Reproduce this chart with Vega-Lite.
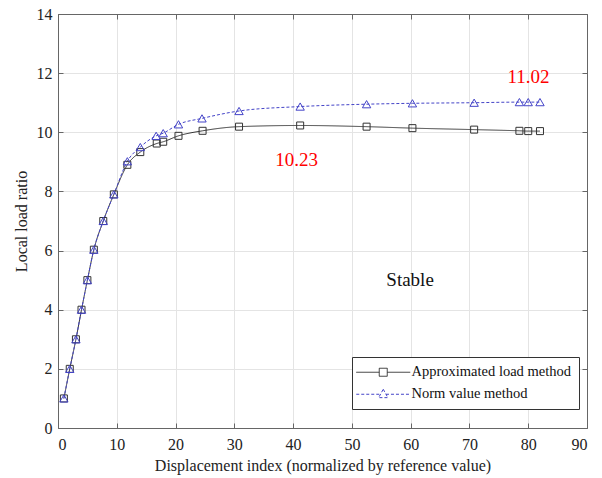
{
  "$schema": "https://vega.github.io/schema/vega-lite/v6.json",
  "width": 529,
  "height": 414,
  "autosize": "none",
  "padding": {"left": 58, "top": 14, "right": 15, "bottom": 50},
  "background": "white",
  "config": {
    "view": {"stroke": null},
    "font": "Liberation Serif, DejaVu Serif, Times New Roman, serif",
    "axis": {
      "domainColor": "#666666",
      "tickColor": "#666666",
      "gridColor": "#e4e4e4",
      "labelColor": "#222222",
      "titleColor": "#222222",
      "labelFont": "Liberation Serif, DejaVu Serif, Times New Roman, serif",
      "titleFont": "Liberation Serif, DejaVu Serif, Times New Roman, serif",
      "labelFontSize": 16,
      "titleFontSize": 16,
      "titleFontWeight": "normal"
    }
  },
  "datasets": {
    "curves": [
      {"method": "Approximated load method", "index": 1, "ratio": 1},
      {"method": "Approximated load method", "index": 2, "ratio": 2},
      {"method": "Approximated load method", "index": 3.05, "ratio": 3},
      {"method": "Approximated load method", "index": 4, "ratio": 4},
      {"method": "Approximated load method", "index": 5, "ratio": 5},
      {"method": "Approximated load method", "index": 6.1, "ratio": 6.03},
      {"method": "Approximated load method", "index": 7.7, "ratio": 7.0},
      {"method": "Approximated load method", "index": 9.5, "ratio": 7.9},
      {"method": "Approximated load method", "index": 11.8, "ratio": 8.9},
      {"method": "Approximated load method", "index": 14.0, "ratio": 9.33},
      {"method": "Approximated load method", "index": 16.8, "ratio": 9.62},
      {"method": "Approximated load method", "index": 17.9, "ratio": 9.68},
      {"method": "Approximated load method", "index": 20.5, "ratio": 9.88},
      {"method": "Approximated load method", "index": 24.6, "ratio": 10.05},
      {"method": "Approximated load method", "index": 30.8, "ratio": 10.19},
      {"method": "Approximated load method", "index": 41.2, "ratio": 10.23},
      {"method": "Approximated load method", "index": 52.5, "ratio": 10.19},
      {"method": "Approximated load method", "index": 60.3, "ratio": 10.14},
      {"method": "Approximated load method", "index": 70.8, "ratio": 10.09},
      {"method": "Approximated load method", "index": 78.5, "ratio": 10.05},
      {"method": "Approximated load method", "index": 80.0, "ratio": 10.04},
      {"method": "Approximated load method", "index": 82.0, "ratio": 10.04},
      {"method": "Norm value method", "index": 1, "ratio": 1},
      {"method": "Norm value method", "index": 2, "ratio": 2},
      {"method": "Norm value method", "index": 3.05, "ratio": 3},
      {"method": "Norm value method", "index": 4, "ratio": 4},
      {"method": "Norm value method", "index": 5, "ratio": 5},
      {"method": "Norm value method", "index": 6.1, "ratio": 6.03},
      {"method": "Norm value method", "index": 7.7, "ratio": 7.0},
      {"method": "Norm value method", "index": 9.5, "ratio": 7.9},
      {"method": "Norm value method", "index": 11.8, "ratio": 9.02},
      {"method": "Norm value method", "index": 14.0, "ratio": 9.5},
      {"method": "Norm value method", "index": 16.7, "ratio": 9.88},
      {"method": "Norm value method", "index": 17.9, "ratio": 9.97},
      {"method": "Norm value method", "index": 20.5, "ratio": 10.27},
      {"method": "Norm value method", "index": 24.5, "ratio": 10.47},
      {"method": "Norm value method", "index": 30.8, "ratio": 10.72},
      {"method": "Norm value method", "index": 41.2, "ratio": 10.87},
      {"method": "Norm value method", "index": 52.5, "ratio": 10.95},
      {"method": "Norm value method", "index": 60.3, "ratio": 10.98},
      {"method": "Norm value method", "index": 70.8, "ratio": 11.0},
      {"method": "Norm value method", "index": 78.5, "ratio": 11.02},
      {"method": "Norm value method", "index": 80.0, "ratio": 11.02},
      {"method": "Norm value method", "index": 82.0, "ratio": 11.02}
    ],
    "redNotes": [
      {"index": 80.05, "ratio": 11.86, "label": "11.02"},
      {"index": 40.6, "ratio": 9.05, "label": "10.23"}
    ],
    "blackNotes": [
      {"index": 59.9, "ratio": 5.02, "label": "Stable"}
    ]
  },
  "resolve": {"axis": {"x": "independent", "y": "independent"}},
  "layer": [
    {
      "data": {"name": "curves"},
      "mark": {"type": "line", "interpolate": "monotone", "strokeWidth": 1},
      "encoding": {
        "x": {
          "field": "index", "type": "quantitative",
          "scale": {"domain": [0, 90], "nice": false},
          "axis": {
            "orient": "bottom",
            "values": [0, 10, 20, 30, 40, 50, 60, 70, 80, 90],
            "grid": true, "tickSize": -5, "labelPadding": 13,
            "title": "Displacement index (normalized by reference value)",
            "titlePadding": 5
          }
        },
        "y": {
          "field": "ratio", "type": "quantitative",
          "scale": {"domain": [0, 14], "nice": false},
          "axis": {
            "orient": "left",
            "values": [0, 2, 4, 6, 8, 10, 12, 14],
            "grid": true, "tickSize": -5, "labelPadding": 11,
            "title": "Local load ratio",
            "titlePadding": 7
          }
        },
        "color": {
          "field": "method", "type": "nominal",
          "scale": {"domain": ["Approximated load method", "Norm value method"], "range": ["#333333", "#4444c8"]},
          "legend": {
            "orient": "none", "legendX": 294, "legendY": 343,
            "title": null,
            "fillColor": "white", "strokeColor": "#333333", "padding": 8,
            "labelFont": "Liberation Serif, DejaVu Serif, Times New Roman, serif", "labelFontSize": 14.5, "labelColor": "#111111",
            "labelOffset": 37, "rowPadding": 7, "symbolSize": 64, "symbolStrokeWidth": 1,
            "symbolType": "square",
            "encode": {
              "symbols": {
                "update": {
                  "shape": {"signal": "datum.value === 'Norm value method' ? 'M-2.75,0H3.32M4.68,0H10.75M4,-1.25L5.15,0.85L2.85,0.85Z' : 'M-2.75,0H3M5,0H10.75M3,-1H5V1H3Z'"},
                  "strokeDash": {"signal": "datum.value === 'Norm value method' ? [3, 2] : [1, 0]"},
                  "fill": {"value": "transparent"}
                }
              }
            }
          }
        },
        "strokeDash": {
          "field": "method", "type": "nominal",
          "scale": {"domain": ["Approximated load method", "Norm value method"], "range": [[1, 0], [3, 2]]},
          "legend": null
        }
      }
    },
    {
      "data": {"name": "curves"},
      "transform": [{"filter": "datum.method === 'Approximated load method'"}],
      "mark": {"type": "point", "shape": "square", "size": 49, "filled": false, "strokeWidth": 1, "opacity": 1},
      "encoding": {
        "x": {
          "field": "index", "type": "quantitative",
          "axis": {"orient": "top", "labels": false, "grid": false, "tickSize": -5, "title": null, "values": [0, 10, 20, 30, 40, 50, 60, 70, 80, 90]}
        },
        "y": {
          "field": "ratio", "type": "quantitative",
          "axis": {"orient": "right", "labels": false, "grid": false, "tickSize": -5, "title": null, "values": [0, 2, 4, 6, 8, 10, 12, 14]}
        },
        "color": {"field": "method", "type": "nominal"}
      }
    },
    {
      "data": {"name": "curves"},
      "transform": [{"filter": "datum.method === 'Norm value method'"}],
      "mark": {"type": "point", "shape": "triangle-up", "size": 70, "filled": false, "strokeWidth": 1, "opacity": 1},
      "encoding": {
        "x": {"field": "index", "type": "quantitative", "axis": null},
        "y": {"field": "ratio", "type": "quantitative", "axis": null},
        "color": {"field": "method", "type": "nominal"}
      }
    },
    {
      "data": {"name": "redNotes"},
      "mark": {"type": "text", "font": "Liberation Serif, DejaVu Serif, Times New Roman, serif", "fontSize": 19, "color": "#ff0000", "align": "center", "baseline": "middle"},
      "encoding": {
        "x": {"field": "index", "type": "quantitative", "axis": null},
        "y": {"field": "ratio", "type": "quantitative", "axis": null},
        "text": {"field": "label"}
      }
    },
    {
      "data": {"name": "blackNotes"},
      "mark": {"type": "text", "font": "Liberation Serif, DejaVu Serif, Times New Roman, serif", "fontSize": 19, "color": "#111111", "align": "center", "baseline": "middle"},
      "encoding": {
        "x": {"field": "index", "type": "quantitative", "axis": null},
        "y": {"field": "ratio", "type": "quantitative", "axis": null},
        "text": {"field": "label"}
      }
    }
  ]
}
